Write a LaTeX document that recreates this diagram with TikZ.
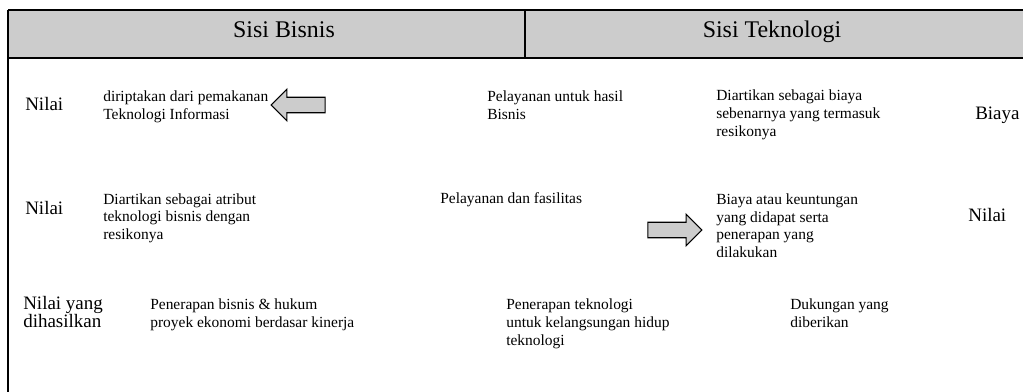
\documentclass[tikz,border=0pt]{standalone}
\usepackage{fontspec}
\setmainfont{Liberation Serif}
\usetikzlibrary{shapes.arrows}
\definecolor{hatchgray}{gray}{0.80}

\begin{document}
\begin{tikzpicture}[x=0.025cm,y=-0.025cm,
  txt/.style={anchor=base west,inner sep=0pt,align=left,font=\fontsize{11}{12.8}\selectfont},
  lbl/.style={anchor=base west,inner sep=0pt,align=left,font=\fontsize{13.5}{12.8}\selectfont},
  headtxt/.style={anchor=base,inner sep=0pt,font=\fontsize{17}{18}\selectfont},
  blockarrow/.style={single arrow,draw,thick,fill=hatchgray,inner sep=0.18cm,
    minimum height=1.35cm,single arrow head extend=0.2cm}]
  \useasboundingbox (0,0) rectangle (1023,392);

  % header band
  \fill[hatchgray] (8,10) rectangle (1023,58);
  \draw[line width=1pt] (8,10) -- (1023,10);
  \draw[line width=1.4pt] (8,58) -- (1023,58);
  \draw[line width=1pt] (8,10) -- (8,392);
  \draw[line width=1pt] (525,10) -- (525,58);
  \node[headtxt] (bisnis) at (284,38) {Sisi Bisnis};
  \node[headtxt] (tekno) at (772,38) {Sisi Teknologi};

  % first row
  \node[lbl] (nilaiA) at (25,111) {Nilai};
  \node[txt] (ciptaA) at (103,120) {diriptakan dari  pemakanan\\Teknologi Informasi};
  \node[blockarrow,shape border rotate=180] (arrL) at (302,105) {};
  \node[txt] (layanA) at (487,120) {Pelayanan untuk hasil\\Bisnis};
  \node[txt] (artiA) at (716,137) {Diartikan sebagai biaya\\sebenarnya yang termasuk\\resikonya};
  \node[lbl] (biayaA) at (975,120) {Biaya};

  % second row
  \node[lbl] (nilaiB) at (25,215) {Nilai};
  \node[txt] (artiB) at (103,240) {Diartikan sebagai atribut\\teknologi bisnis dengan\\resikonya};
  \node[txt] (layanB) at (440,204) {Pelayanan dan fasilitas};
  \node[blockarrow] (arrR) at (671,230) {};
  \node[txt] (biayaB) at (716,258) {Biaya atau keuntungan\\yang didapat serta\\penerapan  yang\\dilakukan};
  \node[lbl] (nilaiC) at (968,222) {Nilai};

  % third row
  \node[lbl] (hasil) at (23,327) {Nilai  yang\\dihasilkan};
  \node[txt] (terapA) at (150,327) {Penerapan bisnis \& hukum\\proyek ekonomi berdasar kinerja};
  \node[txt] (terapB) at (506,345) {Penerapan teknologi\\untuk kelangsungan hidup\\teknologi};
  \node[txt] (dukung) at (790,327) {Dukungan yang\\diberikan};
\end{tikzpicture}
\end{document}
